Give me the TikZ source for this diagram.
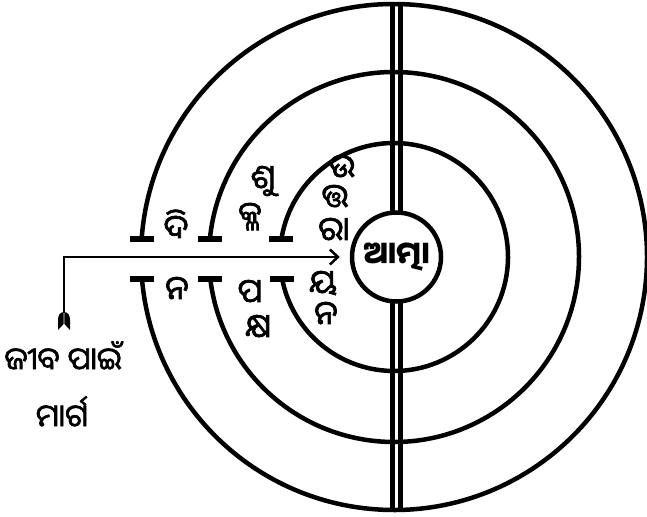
\documentclass[tikz,border=0pt]{standalone}
\usepackage{fontspec}
\newfontfamily\odia[Script=Oriya]{Noto Sans Oriya UI}
\newcommand\thk[2]{\special{pdf:literal direct 2 Tr #1 w}#2\special{pdf:literal direct 0 Tr 0.398 w}}
\usetikzlibrary{arrows.meta,backgrounds}
\begin{document}
\begin{tikzpicture}[x=1pt,y=-1pt,
  ring/.style={line width=4.5pt},
  tbar/.style={line width=5.5pt},
  lbl/.style={font=\odia\fontsize{33}{33}\selectfont, inner sep=0pt, anchor=base,
    text height=20pt, text depth=2pt},
  side/.style={font=\odia\fontsize{31}{31}\selectfont, inner sep=0pt, anchor=base,
    text height=20pt, text depth=2pt},
  path/.style={line width=2.8pt}]
\useasboundingbox (0,0) rectangle (647,516);
\coordinate (c) at (394,257);
\node[circle, draw, line width=4.5pt, fill=white, minimum size=89pt, inner sep=0pt,
  font=\odia\bfseries\fontsize{31}{31}\selectfont] (atma) at (396.5,257) {ଆତ୍ମା};
\coordinate (top) at (396.5,4);
\coordinate (bot) at (396.5,510);
\begin{scope}[on background layer]
  \draw[line width=4.5pt, double=white, double distance=3.5pt] (top) -- (atma.center);
  \draw[line width=4.5pt, double=white, double distance=3.5pt] (atma.center) -- (bot);
\end{scope}
% rings
\draw[ring] (c) ++(184.08:253) coordinate (o1) arc[start angle=184.08, end angle=535.01, radius=253] coordinate (o2);
\draw[ring] (c) ++(185.58:185) coordinate (m1) arc[start angle=185.58, end angle=533.17, radius=185] coordinate (m2);
\draw[ring] (c) ++(189.08:114) coordinate (i1) arc[start angle=189.08, end angle=528.87, radius=114] coordinate (i2);
\foreach \p in {o1,o2,m1,m2,i1,i2}
  \draw[tbar] ([xshift=-12pt]\p) -- ([xshift=12pt]\p);
% path arrow
\coordinate (tail) at (64,313);
\draw[path, -{Straight Barb[length=8pt,width=15pt,line width=2.5pt]}, shorten >=10pt] (tail) |- (atma);
\fill (63.6,312) .. controls (60,312.5) and (58,315) .. (58,320) -- (58,330) -- (63.6,324) -- cycle;
\fill (64.4,312) .. controls (68,312.5) and (70,315) .. (70,320) -- (70,330) -- (64.4,324) -- cycle;
% labels
\node[lbl] (d1) at (176,241) {\thk{0.7}{ଦି}};
\node[lbl] (d2) at (177,302) {\thk{0.7}{ନ}};
\node[lbl] (s1) at (263,191) {\thk{0.7}{ଶୁ}};
\node[lbl] (s2) at (250,228) {\thk{0.7}{କ୍ଳ}};
\node[lbl] (p1) at (250,305) {\thk{0.7}{ପ}};
\node[lbl] (p2) at (258,340) {\thk{0.7}{କ୍ଷ}};
\node[lbl] (u1) at (342,180) {\thk{0.7}{ଉ}};
\node[lbl] (u2) at (335,210) {\thk{0.7}{ତ୍ତ}};
\node[lbl] (u3) at (334,243) {\thk{0.7}{ରା}};
\node[lbl] (y1) at (323,296) {\thk{0.7}{ୟ}};
\node[lbl] (y2) at (326,327) {\thk{0.7}{ନ}};
\node[side] (jiva) at (63,372) {\thk{0.6}{ଜୀବ ପାଇଁ}};
\node[side] (marga) at (62,429) {\thk{0.6}{ମାର୍ଗ}};
\end{tikzpicture}
\end{document}
